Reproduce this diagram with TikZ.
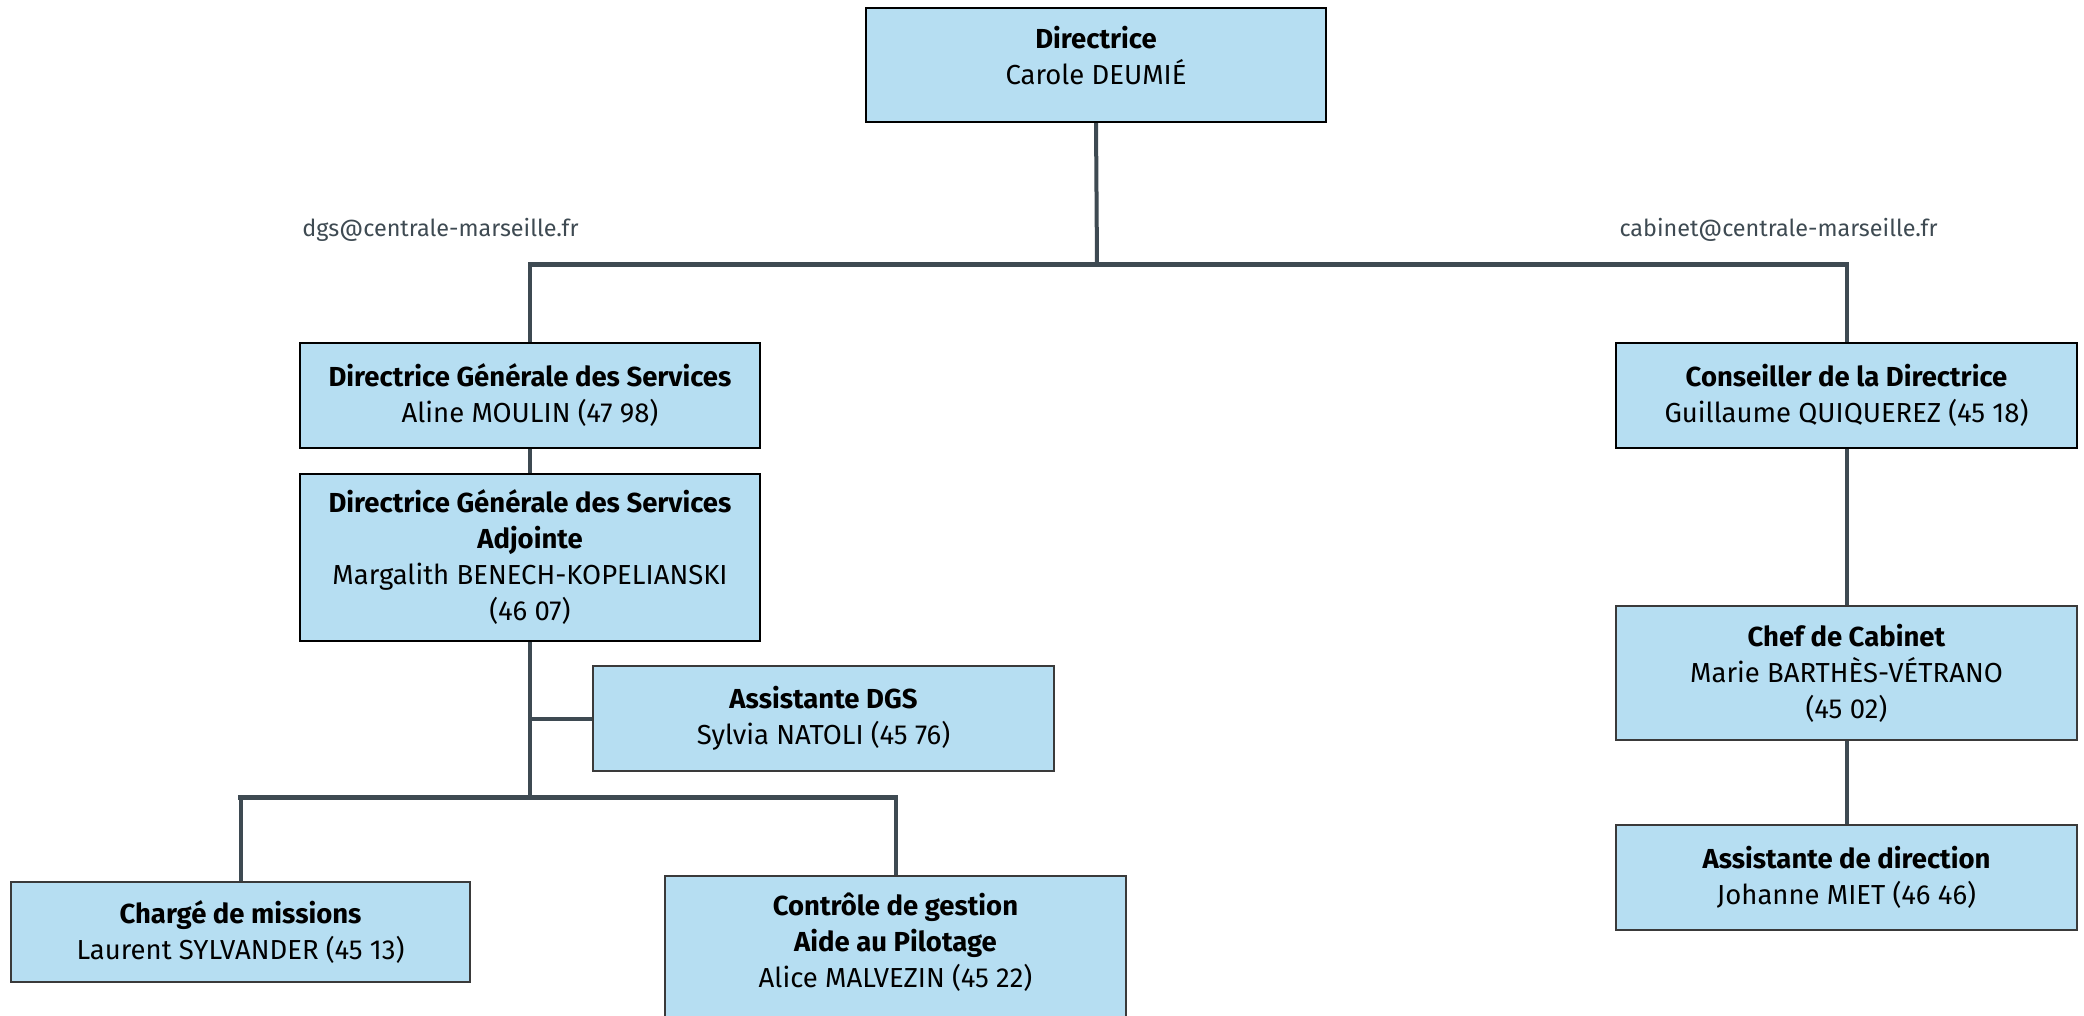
\documentclass[tikz,border=0pt]{standalone}
\usepackage{fontspec}
\setmainfont{Fira Sans}
\definecolor{boxblue}{HTML}{B6DEF2}
\definecolor{linegray}{HTML}{3E4A52}
\definecolor{bordgray}{HTML}{3A3A3A}
\begin{document}
\begin{tikzpicture}[x=1pt,y=-1pt,
  box/.style={draw=black, line width=2.2pt, fill=boxblue, rectangle, inner sep=0pt, align=center, font=\fontsize{27.5}{36}\selectfont},
  gbox/.style={box, draw=bordgray, line width=1.6pt},
  txt/.style={inner sep=0pt, align=center, font=\fontsize{27.5}{36}\selectfont},
  conn/.style={draw=linegray, line width=4pt},
  hbar/.style={draw=linegray, line width=5pt, line cap=rect},
  mail/.style={font=\fontsize{23.4}{28}\selectfont, text=linegray, inner sep=0pt}
]
\useasboundingbox (0,0) rectangle (2084,1016);
\clip (0,0) rectangle (2084,1016);

\node[box, minimum width=460, minimum height=114] (dir) at (1096,65) {};
\node[txt] (dirtext) at (1096,56) {\textbf{Directrice}\\Carole DEUMIÉ};
\node[box, minimum width=460, minimum height=105] (dgs) at (530,395.5) {\textbf{Directrice Générale des Services}\\Aline MOULIN (47 98)};
\node[box, minimum width=460, minimum height=167] (dgsa) at (530,557.5) {\textbf{Directrice Générale des Services}\\\textbf{Adjointe}\\Margalith BENECH-KOPELIANSKI\\(46 07)};
\node[gbox, minimum width=461, minimum height=105] (asdgs) at (823.5,718.5) {\textbf{Assistante DGS}\\Sylvia NATOLI (45 76)};
\node[gbox, minimum width=459, minimum height=100] (charge) at (240.5,932) {\textbf{Chargé de missions}\\Laurent SYLVANDER (45 13)};
\node[gbox, minimum width=461, minimum height=170, anchor=north] (ctrl) at (895.5,875) {};
\node[txt] (ctrltext) at (895.5,942) {\textbf{Contrôle de gestion}\\\textbf{Aide au Pilotage}\\Alice MALVEZIN (45 22)};
\node[box, minimum width=461, minimum height=105] (cons) at (1846.5,395.5) {\textbf{Conseiller de la Directrice}\\Guillaume QUIQUEREZ (45 18)};
\node[gbox, minimum width=461, minimum height=134] (chef) at (1846.5,673) {\textbf{Chef de Cabinet}\\Marie BARTHÈS-VÉTRANO\\(45 02)};
\node[gbox, minimum width=461, minimum height=105] (asdir) at (1846.5,877.5) {\textbf{Assistante de direction}\\Johanne MIET (46 46)};

\node[mail] (mdgs) at (440.5,230) {dgs@centrale-marseille.fr};
\node[mail] (mcab) at (1778.5,230) {cabinet@centrale-marseille.fr};

\coordinate (tb) at (1097,265);
\coordinate (lb) at (530,797);

\draw[conn] (dir.south) -- (tb);
\draw[conn] (dgs.north |- tb) -- (dgs.north);
\draw[conn] (cons.north |- tb) -- (cons.north);
\draw[hbar] (dgs.north |- tb) -- (cons.north |- tb);
\draw[conn] (dgs.south) -- (dgsa.north);
\draw[conn] (dgsa.south) -- (lb);
\draw[conn] (dgsa.south |- asdgs.west) -- (asdgs.west);
\draw[conn] (charge.north |- lb) -- (charge.north);
\draw[conn] (ctrl.north |- lb) -- (ctrl.north);
\draw[hbar] (charge.north |- lb) -- (ctrl.north |- lb);
\draw[conn] (cons.south) -- (chef.north);
\draw[conn] (chef.south) -- (asdir.north);
\end{tikzpicture}
\end{document}
